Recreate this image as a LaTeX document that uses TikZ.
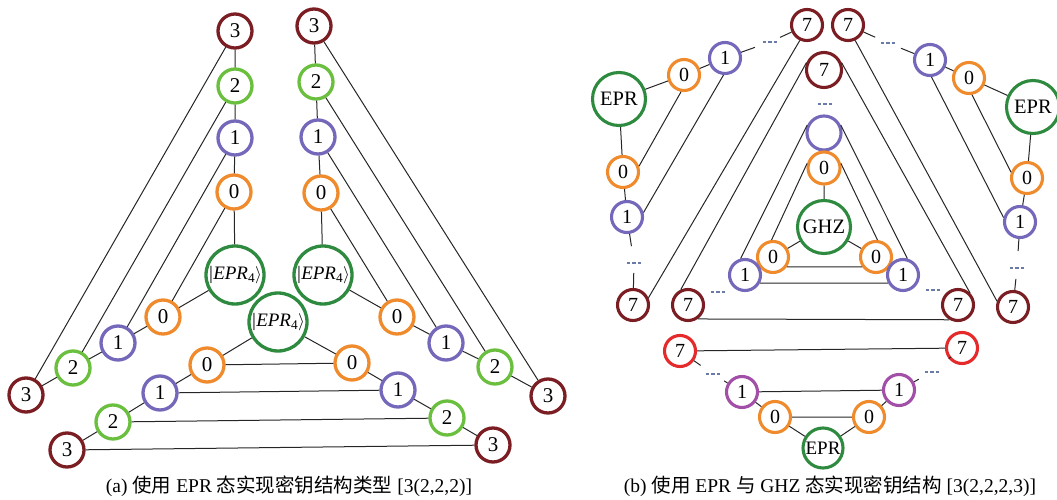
\documentclass[tikz,border=0pt]{standalone}
\usepackage{fontspec}
\setmainfont{Liberation Serif}
\newfontfamily\cjk{Noto Sans CJK SC}
\definecolor{dred}{HTML}{7B1E23}
\definecolor{lgreen}{HTML}{6BBF3F}
\definecolor{purp}{HTML}{7468BA}
\definecolor{orng}{HTML}{EF8B2D}
\definecolor{dgreen}{HTML}{2E8A3E}
\definecolor{bred}{HTML}{E52A2C}
\definecolor{mag}{HTML}{A24FA8}
\definecolor{dotc}{HTML}{6A7BA8}
\newcommand{\eprket}{\textit{|EPR}\textsubscript{4}$\rangle$}
\newcommand{\dts}{\textcolor{dotc}{\rule{3.5pt}{1.2pt}\hspace{1.8pt}\rule{3.5pt}{1.2pt}\hspace{1.8pt}\rule{3.5pt}{1.2pt}}}
\begin{document}
\begin{tikzpicture}[x=1pt,y=-1pt,
  nd/.style={circle, draw, line width=3.3pt, minimum size=34pt, inner sep=0pt, fill=white, font=\fontsize{21}{21}\selectfont},
  ndb/.style={nd, line width=3.1pt, minimum size=31pt, font=\fontsize{20}{20}\selectfont},
  bigA/.style={nd, draw=dgreen, minimum size=58pt, font=\fontsize{19}{19}\selectfont},
  bigB/.style={ndb, draw=dgreen, minimum size=53pt, font=\fontsize{20.5}{20.5}\selectfont},
  ln/.style={line width=1pt, draw=black!85},
  dotn/.style={inner sep=0pt, outer sep=0pt},
  capt/.style={font=\fontsize{19.5}{19.5}\selectfont, inner sep=0pt}
]
\useasboundingbox (0,0) rectangle (1057,500);

% ---------------- (a) ----------------
\node[nd,draw=dred]   (L3) at (235,31) {3};
\node[nd,draw=lgreen] (L2) at (235,86) {2};
\node[nd,draw=purp]   (L1) at (235,138) {1};
\node[nd,draw=orng]   (L0) at (234,192) {0};
\node[bigA]           (LE) at (235,275) {\eprket};
\node[nd,draw=dred]   (R3) at (314,26) {3};
\node[nd,draw=lgreen] (R2) at (316,82) {2};
\node[nd,draw=purp]   (R1) at (318,137) {1};
\node[nd,draw=orng]   (R0) at (321,193) {0};
\node[bigA]           (RE) at (323,275) {\eprket};
\node[bigA]           (CE) at (278,322) {\eprket};
\node[nd,draw=orng]   (a0) at (163,317) {0};
\node[nd,draw=purp]   (a1) at (118,343) {1};
\node[nd,draw=lgreen] (a2) at (73,368) {2};
\node[nd,draw=dred]   (a3) at (26,395) {3};
\node[nd,draw=orng]   (b0) at (397,317) {0};
\node[nd,draw=purp]   (b1) at (446,343) {1};
\node[nd,draw=lgreen] (b2) at (495,367) {2};
\node[nd,draw=dred]   (b3) at (548,396) {3};
\node[nd,draw=orng]   (c0) at (207,365) {0};
\node[nd,draw=purp]   (c1) at (160,393) {1};
\node[nd,draw=lgreen] (c2) at (113,422) {2};
\node[nd,draw=dred]   (c3) at (67,450) {3};
\node[nd,draw=orng]   (d0) at (352,363) {0};
\node[nd,draw=purp]   (d1) at (398,390) {1};
\node[nd,draw=lgreen] (d2) at (447,418) {2};
\node[nd,draw=dred]   (d3) at (493,445) {3};

\draw[ln] (L3) -- (L2) (L2) -- (L1) (L1) -- (L0) (L0) -- (LE);
\draw[ln] (R3) -- (R2) (R2) -- (R1) (R1) -- (R0) (R0) -- (RE);
\draw[ln] (LE) -- (a0) (a0) -- (a1) (a1) -- (a2) (a2) -- (a3);
\draw[ln] (RE) -- (b0) (b0) -- (b1) (b1) -- (b2) (b2) -- (b3);
\draw[ln] (CE) -- (c0) (c0) -- (c1) (c1) -- (c2) (c2) -- (c3);
\draw[ln] (CE) -- (d0) (d0) -- (d1) (d1) -- (d2) (d2) -- (d3);
\draw[ln] (L3) -- (a3) (L2) -- (a2) (L1) -- (a1) (L0) -- (a0);
\draw[ln] (R3) -- (b3) (R2) -- (b2) (R1) -- (b1) (R0) -- (b0);
\draw[ln] (c0) -- (d0) (c1) -- (d1) (c2) -- (d2) (c3) -- (d3);

% ---------------- (b) ----------------
\node[ndb,draw=dred] (TL7) at (807,25) {7};
\node[ndb,draw=dred] (TR7) at (848,25) {7};
\node[ndb,draw=dred,minimum size=35pt] (C7) at (824,70) {7};
\node[dotn] (dC) at (825,104) {\dts};
\node[ndb,draw=purp,minimum size=34pt] (P) at (824,133) {};
\node[ndb,draw=orng,minimum size=32pt] (G0) at (824,168) {0};
\node[bigB] (GHZ) at (824,227) {GHZ};
\node[ndb,draw=orng] (G0L) at (773,257) {0};
\node[ndb,draw=orng] (G0R) at (876,257) {0};
\node[ndb,draw=purp] (G1L) at (745,275) {1};
\node[ndb,draw=purp] (G1R) at (903,275) {1};
\node[ndb,draw=dred] (B7L) at (688,305) {7};
\node[ndb,draw=dred] (B7R) at (958,305) {7};
\node[dotn] (dBL) at (718,292) {\dts};
\node[dotn] (dBR) at (933,290) {\dts};

\node[ndb,draw=purp] (U1L) at (725,58) {1};
\node[dotn] (dUL) at (770,42) {\dts};
\node[ndb,draw=orng] (U0L) at (684,75) {0};
\node[bigB] (EL) at (619,99) {EPR};
\node[ndb,draw=orng] (V0L) at (623,172) {0};
\node[ndb,draw=purp] (V1L) at (627,217) {1};
\node[dotn] (dVL) at (634,263) {\dts};
\node[ndb,draw=dred] (V7L) at (633,305) {7};

\node[ndb,draw=purp] (U1R) at (930,60) {1};
\node[dotn] (dUR) at (888,43) {\dts};
\node[ndb,draw=orng] (U0R) at (969,78) {0};
\node[bigB] (ER) at (1033,107) {EPR};
\node[ndb,draw=orng] (V0R) at (1027,178) {0};
\node[ndb,draw=purp] (V1R) at (1020,222) {1};
\node[dotn] (dVR) at (1017,268) {\dts};
\node[ndb,draw=dred] (V7R) at (1013,307) {7};

\node[ndb,draw=bred] (R7L) at (680,351) {7};
\node[ndb,draw=bred] (R7R) at (962,348) {7};
\node[dotn] (dRL) at (713,374) {\dts};
\node[dotn] (dRR) at (932,372) {\dts};
\node[ndb,draw=mag] (M1L) at (742,392) {1};
\node[ndb,draw=mag] (M1R) at (899,390) {1};
\node[ndb,draw=orng] (N0L) at (775,417) {0};
\node[ndb,draw=orng] (N0R) at (869,417) {0};
\node[ndb,draw=dgreen,minimum size=40pt,font=\fontsize{19}{19}\selectfont] (EB) at (823,448) {EPR};

% chains with stubs
\draw[ln,shorten >=11pt] (TL7) -- (dUL.center);
\draw[ln,shorten <=16pt] (dUL.center) -- (U1L);
\draw[ln,shorten >=14pt] (TR7) -- (dUR.center);
\draw[ln,shorten <=14pt] (dUR.center) -- (U1R);
\draw[ln,shorten >=17pt] (V1L) -- (dVL.center);
\draw[ln,shorten <=10pt] (dVL.center) -- (V7L);
\draw[ln,shorten >=17pt] (V1R) -- (dVR.center);
\draw[ln,shorten <=11pt] (dVR.center) -- (V7R);
\draw[ln,shorten >=15pt] (R7L) -- (dRL.center);
\draw[ln,shorten <=13pt] (dRL.center) -- (M1L);
\draw[ln,shorten >=15pt] (M1R) -- (dRR.center);
\draw[ln,shorten <=24pt] (dRR.center) -- (R7R);

\draw[ln] (U1L) -- (U0L) (U0L) -- (EL) (EL) -- (V0L) (V0L) -- (V1L);
\draw[ln] (U1R) -- (U0R) (U0R) -- (ER) (ER) -- (V0R) (V0R) -- (V1R);
\draw[ln] (U0L.260) -- (V0L.20) (U1L.265) -- (V1L.15) (TL7.245) -- (V7L.25);
\draw[ln] (U0R.280) -- (V0R.160) (U1R.275) -- (V1R.165) (TR7.295) -- (V7R.160);
\draw[ln] (C7.157) -- (B7L.115) (C7.23) -- (B7R.45);
\draw[ln] (P.155) -- (G1L.105) (P.25) -- (G1R.75);
\draw[ln] (G0.165) -- (G0L.95) (G0.15) -- (G0R.85);
\draw[ln] (G0) -- (GHZ) (GHZ) -- (G0L) (GHZ) -- (G0R);
\draw[ln] (G0L.-35) -- (G0R.-145) (G1L.-28) -- (G1R.-152) (B7L.-55) -- (B7R.-120);
\draw[ln] (R7L) -- (R7R) (M1L) -- (M1R) (N0L) -- (N0R);
\draw[ln] (M1L) -- (N0L) (N0L) -- (EB) (EB) -- (N0R) (N0R) -- (M1R);

% captions
\node[capt] (capA) at (289,486) {(a) {\cjk 使用} EPR {\cjk 态实现密钥结构类型} [3(2,2,2)]};
\node[capt] (capB) at (830,486) {(b) {\cjk 使用} EPR {\cjk 与} GHZ {\cjk 态实现密钥结构} [3(2,2,2,3)]};
\end{tikzpicture}
\end{document}
